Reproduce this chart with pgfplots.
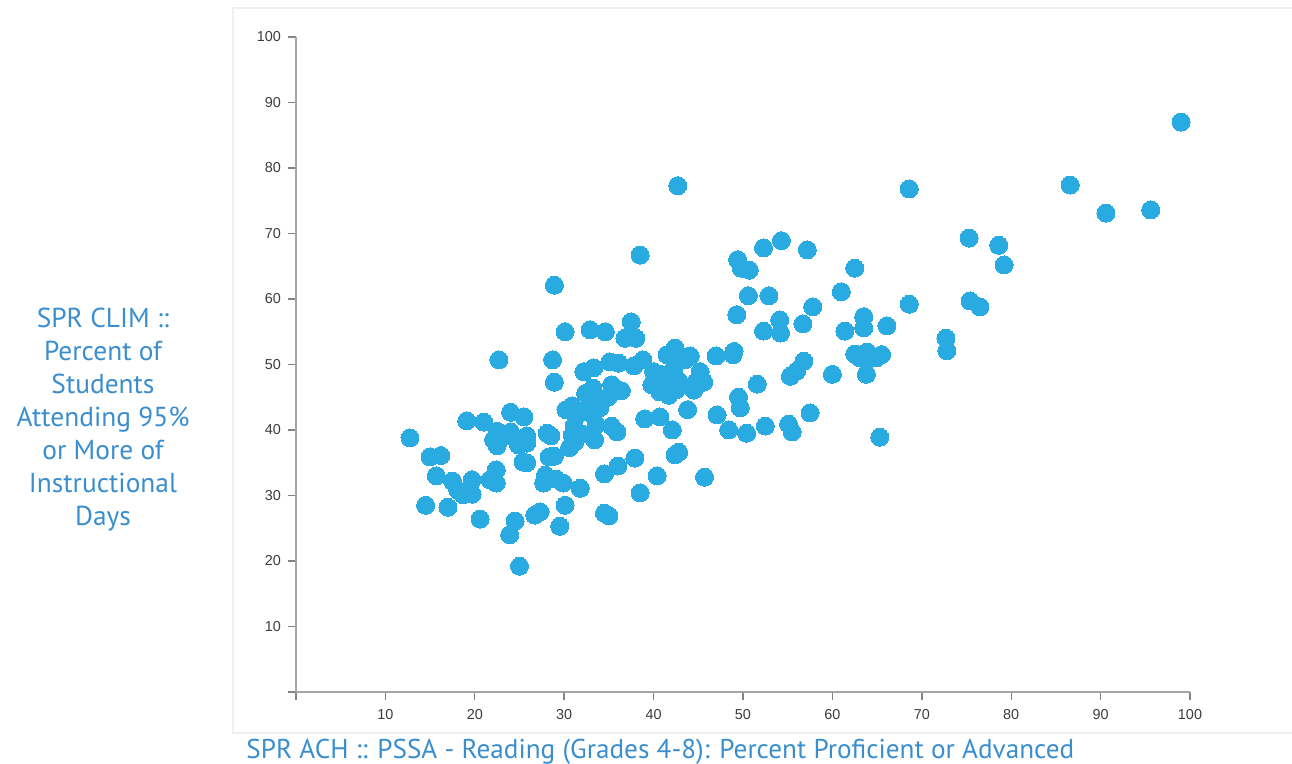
\documentclass[border=0pt]{standalone}
\usepackage{fontspec}
\setmainfont{PT Sans}
\newfontfamily\tickfont{Liberation Sans}
\usepackage{pgfplots}
\pgfplotsset{compat=1.18}
\definecolor{dotblue}{RGB}{41,170,225}
\definecolor{labelblue}{RGB}{58,142,206}
\definecolor{axisgray}{RGB}{165,165,165}
\definecolor{ticktext}{RGB}{60,60,60}

\pgfplotstableread{
x y
12.75 38.8
14.5 28.5
15.0 35.9
16.2 36.1
15.7 33.0
17.0 28.2
17.5 32.2
18.1 30.8
18.7 30.1
19.1 41.4
19.7 30.2
19.7 32.4
20.6 26.4
21.0 41.2
21.7 32.4
22.4 33.9
22.4 31.9
22.5 39.8
22.1 38.5
22.7 50.7
22.5 37.6
23.4 39.1
24.0 42.7
24.0 39.7
23.9 24.0
24.5 26.1
25.0 19.2
25.5 42.0
24.9 37.7
25.4 35.1
25.8 38.0
25.8 39.1
25.8 35.0
26.7 27.0
27.3 27.5
27.7 31.9
27.9 33.1
28.1 39.5
28.5 39.1
28.3 35.9
28.7 50.7
28.9 47.3
28.9 62.1
28.9 36.0
29.1 32.5
29.5 25.3
29.9 31.9
30.1 28.5
30.1 55.0
30.2 43.1
30.6 37.3
30.9 39.2
30.9 43.7
31.1 40.6
31.2 38.2
31.7 42.6
31.8 31.1
32.0 39.4
32.2 48.9
32.3 43.1
32.4 45.6
32.9 55.3
33.3 49.5
33.2 46.4
33.1 42.4
33.4 38.5
33.6 40.8
33.7 45.0
34.0 43.4
34.6 55.0
34.5 33.3
34.5 27.3
35.0 26.9
34.9 45.0
35.1 50.4
35.3 46.9
35.3 40.6
35.9 39.7
36.0 34.5
36.1 50.2
36.4 46.0
36.8 54.0
37.5 56.5
37.8 49.8
37.9 35.7
38.0 54.0
38.5 66.7
38.5 30.4
38.8 50.7
39.0 41.7
39.8 46.9
40.0 48.9
40.4 33.0
40.7 45.8
40.7 42.0
40.7 48.5
41.2 47.5
41.5 51.5
41.7 45.3
42.1 40.0
42.2 49.2
42.4 52.5
42.5 46.1
42.7 77.3
42.4 36.2
42.8 36.6
42.8 47.5
43.5 50.7
43.8 43.1
44.1 51.3
44.5 46.1
44.7 47.3
45.2 48.9
45.6 47.3
45.7 32.8
47.0 51.3
47.1 42.3
48.4 40.0
48.9 51.5
49.0 52.0
49.3 57.6
49.4 66.0
49.5 45.0
49.7 43.4
49.8 64.7
50.4 39.5
50.6 60.5
50.7 64.4
51.6 47.0
52.3 55.1
52.3 67.8
52.5 40.6
52.9 60.5
54.1 56.8
54.2 54.8
54.3 68.9
55.1 40.9
55.3 48.2
55.5 39.7
56.0 49.0
56.7 56.2
56.8 50.5
57.2 67.5
57.5 42.6
57.8 58.8
60.0 48.5
61.0 61.1
61.4 55.1
62.5 64.7
62.5 51.6
63.1 51.0
63.5 57.3
63.5 55.6
63.8 50.7
63.8 48.5
63.9 51.9
64.9 51.0
65.5 51.5
65.3 38.9
66.1 55.9
68.6 76.8
68.6 59.2
72.7 54.0
72.8 52.1
75.3 69.3
75.4 59.7
76.5 58.8
78.6 68.2
79.2 65.2
86.6 77.4
90.6 73.1
95.6 73.6
99.0 87.0
}\pts

\begin{document}
\begin{tikzpicture}
\useasboundingbox (-148pt,-36pt) rectangle (498pt,346pt);
\draw[gray!12, line width=1pt] (-31.5pt,-20.5pt) rectangle (520pt,342pt);
\begin{axis}[
    scale only axis,
    width=447pt, height=327.5pt,
    xmin=0, xmax=100, ymin=0, ymax=100,
    axis lines=left,
    axis line style={-, draw=axisgray, line width=0.9pt},
    xtick={0,10,...,100}, ytick={0,10,...,100},
    xticklabels={,10,20,30,40,50,60,70,80,90,100},
    yticklabels={,10,20,30,40,50,60,70,80,90,100},
    tick align=outside,
    major tick length=4pt,
    tick style={draw=axisgray!80!black, line width=0.7pt},
    ticklabel style={font=\tickfont\fontsize{7.2}{8}\selectfont, text=ticktext},
    /pgf/number format/assume math mode=true,
    xticklabel style={yshift=-1pt},
    clip=false,
]
\addplot[only marks, mark=*, mark size=4.5pt, color=dotblue,
    mark options={draw=dotblue, fill=dotblue, line width=0pt}] table[x=x, y=y] {\pts};
\end{axis}
\node[align=center, text=labelblue, font=\fontsize{13.7}{16.5}\selectfont]
    at (-96.5pt,136pt) {SPR CLIM ::\\Percent of\\Students\\Attending 95\%\\or More of\\Instructional\\Days};
\node[anchor=west, text=labelblue, font=\fontsize{13.6}{16}\selectfont, inner sep=0pt]
    at (-25pt,-30pt) {SPR ACH :: PSSA - Reading (Grades 4-8): Percent Proficient or Advanced};
\end{tikzpicture}
\end{document}
